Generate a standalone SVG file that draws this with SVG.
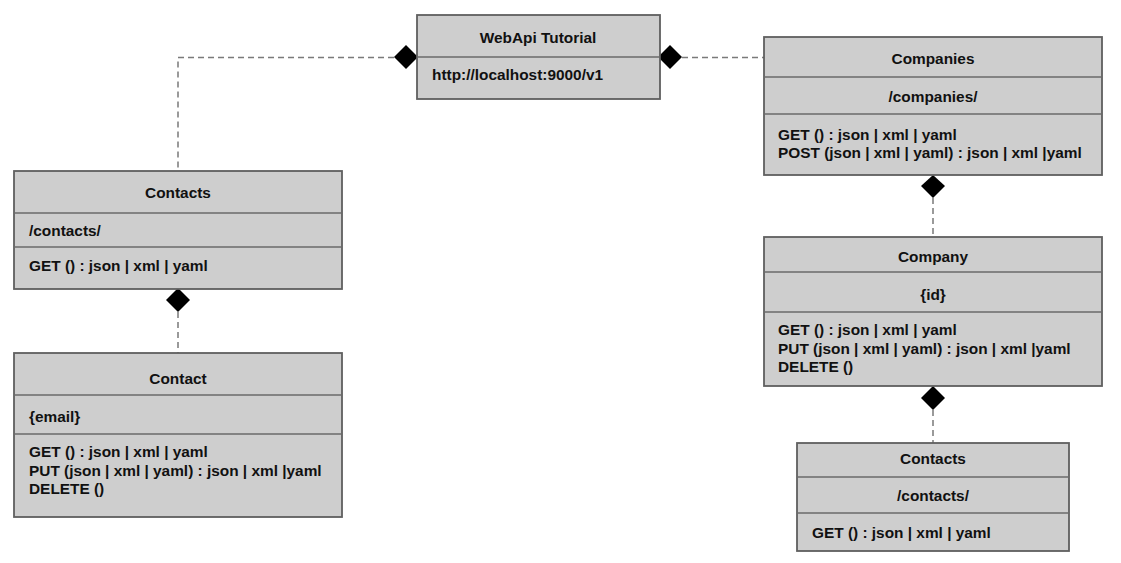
<svg xmlns="http://www.w3.org/2000/svg" width="1121" height="563" viewBox="0 0 1121 563">
<style>
.box{fill:#cecece;stroke:#5f5f5f;stroke-width:1.8}
.div{stroke:#6a6a6a;stroke-width:1.5;fill:none}
.t{font-family:"Liberation Sans",Arial,sans-serif;font-weight:bold;font-size:15.4px;fill:#111}
.c{text-anchor:middle}
.conn{fill:none;stroke:#7a7a7a;stroke-width:1.5;stroke-dasharray:6 4}
.dia{fill:#000}
</style>
<rect width="1121" height="563" fill="#fff"/>
<g id="connectors">
<path class="conn" d="M394,57.5 H178 V171"/>
<path class="conn" d="M682,57.5 H764"/>
<path class="conn" d="M178,312 V353"/>
<path class="conn" d="M933,198 V237"/>
<path class="conn" d="M933,410 V443"/>
<polygon class="dia" points="394,57 406,45 418,57 406,69"/>
<polygon class="dia" points="658,57 670,45 682,57 670,69"/>
<polygon class="dia" points="178,288 190,300 178,312 166,300"/>
<polygon class="dia" points="933,175 945,186 933,198 921,186"/>
<polygon class="dia" points="933,386 945,398 933,410 921,398"/>
</g>
<g id="webapitutorial">
<rect class="box" x="417" y="15" width="243" height="84"/>
<line class="div" x1="417" y1="57" x2="660" y2="57"/>
<text class="t c" x="538" y="43">WebApi Tutorial</text>
<text class="t" x="432" y="80">http://localhost:9000/v1</text>
</g>
<g id="companies">
<rect class="box" x="764" y="37" width="338" height="138"/>
<line class="div" x1="764" y1="77" x2="1102" y2="77"/>
<line class="div" x1="764" y1="114" x2="1102" y2="114"/>
<text class="t c" x="933" y="64">Companies</text>
<text class="t c" x="933" y="102">/companies/</text>
<text class="t" x="778" y="140">GET () : json | xml | yaml</text>
<text class="t" x="778" y="158">POST (json | xml | yaml) : json | xml |yaml</text>
</g>
<g id="contacts-left">
<rect class="box" x="14" y="171" width="328" height="118"/>
<line class="div" x1="14" y1="213" x2="342" y2="213"/>
<line class="div" x1="14" y1="247" x2="342" y2="247"/>
<text class="t c" x="178" y="198">Contacts</text>
<text class="t" x="29" y="236">/contacts/</text>
<text class="t" x="29" y="271">GET () : json | xml | yaml</text>
</g>
<g id="contact">
<rect class="box" x="14" y="353" width="328" height="164"/>
<line class="div" x1="14" y1="395" x2="342" y2="395"/>
<line class="div" x1="14" y1="434" x2="342" y2="434"/>
<text class="t c" x="178" y="384">Contact</text>
<text class="t" x="29" y="422">{email}</text>
<text class="t" x="29" y="457">GET () : json | xml | yaml</text>
<text class="t" x="29" y="476">PUT (json | xml | yaml) : json | xml |yaml</text>
<text class="t" x="29" y="494">DELETE ()</text>
</g>
<g id="company">
<rect class="box" x="764" y="237" width="338" height="149"/>
<line class="div" x1="764" y1="272" x2="1102" y2="272"/>
<line class="div" x1="764" y1="312" x2="1102" y2="312"/>
<text class="t c" x="933" y="262">Company</text>
<text class="t c" x="933" y="300">{id}</text>
<text class="t" x="778" y="335">GET () : json | xml | yaml</text>
<text class="t" x="778" y="354">PUT (json | xml | yaml) : json | xml |yaml</text>
<text class="t" x="778" y="372">DELETE ()</text>
</g>
<g id="contacts-right">
<rect class="box" x="797" y="443" width="272" height="108"/>
<line class="div" x1="797" y1="477" x2="1069" y2="477"/>
<line class="div" x1="797" y1="513" x2="1069" y2="513"/>
<text class="t c" x="933" y="464">Contacts</text>
<text class="t c" x="933" y="501">/contacts/</text>
<text class="t" x="812" y="538">GET () : json | xml | yaml</text>
</g>
</svg>
